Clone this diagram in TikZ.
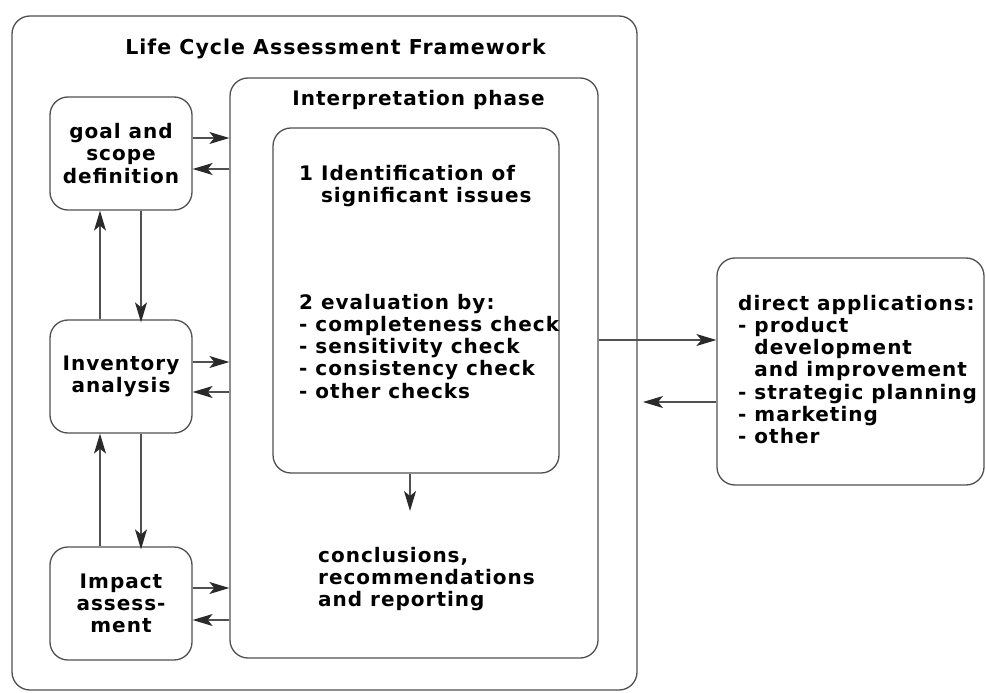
\documentclass[tikz,border=0pt]{standalone}
\usepackage{fontspec}
\setmainfont{DejaVu Sans}[LetterSpace=5]
\usetikzlibrary{arrows.meta}
\definecolor{linegray}{HTML}{505050}
\definecolor{tipgray}{HTML}{2A2A2A}
\begin{document}
\begin{tikzpicture}[x=1pt,y=-1pt,
  box/.style={draw=linegray, line width=1.3pt, rounded corners=18pt, inner sep=0pt},
  txt/.style={font=\bfseries\fontsize{20}{22.3}\selectfont, text=black, inner sep=0pt},
  arr/.style={draw=linegray, line width=1.2pt, -{Stealth[length=20pt,width=12pt,inset=5pt,color=tipgray]}}]
\useasboundingbox (0,0) rectangle (986,693);

% boxes
\node[box, minimum width=625pt, minimum height=674pt] (outer) at (324.5,353) {};
\node[box, minimum width=368pt, minimum height=580pt] (interp) at (414,368) {};
\node[box, minimum width=286pt, minimum height=345pt] (inner) at (416,300.5) {};
\node[box, txt, align=center, minimum width=142pt, minimum height=113pt] (goal) at (121,153.5) {goal and\\scope\\definition};
\node[box, txt, align=center, minimum width=142pt, minimum height=113pt] (inv) at (121,376.5) {Inventory\\analysis};
\node[box, txt, align=center, minimum width=142pt, minimum height=113pt] (imp) at (121,603.5) {Impact\\assess-\\ment};
\node[box, minimum width=267pt, minimum height=227pt] (dapps) at (850.5,371.5) {};

% texts (base anchor = baseline of last line)
\node[txt, font=\bfseries\fontsize{20.5}{24}\selectfont, anchor=base] (title) at (335.5,55) {Life Cycle Assessment Framework};
\node[txt, anchor=base] (interptitle) at (418.5,106) {Interpretation phase};
\node[txt, align=left, anchor=base west] (ident) at (299,202.3) {1 Identification of\\\phantom{1 }significant issues};
\node[txt, align=left, anchor=base west] (eval) at (299,398.2) {2 evaluation by:\\- completeness check\\- sensitivity check\\- consistency check\\- other checks};
\node[txt, align=left, anchor=base west] (concl) at (318,606.6) {conclusions,\\recommendations\\and reporting};
\node[txt, align=left, anchor=base west] (dtext) at (738,443.8) {direct applications:\\- product\\\phantom{- }development\\\phantom{- }and improvement\\- strategic planning\\- marketing\\- other};

% connectors
\draw[arr] (goal.east |- 0,138) -- (interp.west |- 0,138);
\draw[arr] (interp.west |- 0,169) -- (goal.east |- 0,169);
\draw[arr] (inv.east |- 0,362) -- (interp.west |- 0,362);
\draw[arr] (interp.west |- 0,392) -- (inv.east |- 0,392);
\draw[arr] (imp.east |- 0,588) -- (interp.west |- 0,588);
\draw[arr] (interp.west |- 0,620) -- (imp.east |- 0,620);

\draw[arr] (inv.north -| 100,0) -- (goal.south -| 100,0);
\draw[arr] (goal.south -| 141,0) -- ([yshift=-3pt]inv.north -| 141,0);
\draw[arr] (imp.north -| 100,0) -- (inv.south -| 100,0);
\draw[arr] (inv.south -| 141,0) -- ([yshift=-3pt]imp.north -| 141,0);

\coordinate (conclarrow) at (410,511);
\draw[arr] (inner.south -| 410,0) -- (conclarrow);

\coordinate (ret) at (643,402);
\draw[arr] (interp.east |- 0,340) -- (dapps.west |- 0,340);
\draw[arr] (dapps.west |- 0,402) -- (ret);
\end{tikzpicture}
\end{document}
